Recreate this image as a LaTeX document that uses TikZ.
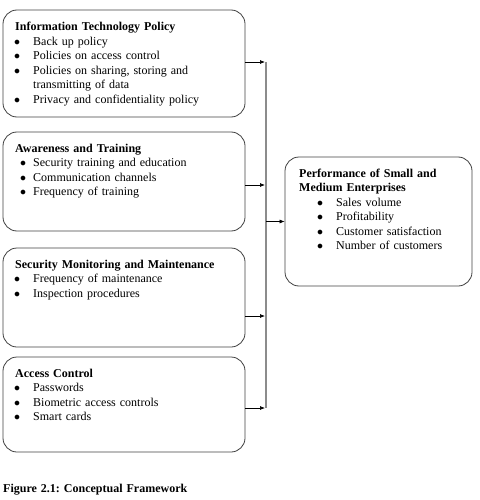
\documentclass[tikz,border=0pt]{standalone}
\usepackage{fontspec}
\setmainfont{Liberation Serif}
\usepackage{tikz}
\usetikzlibrary{arrows.meta}

\frenchspacing
\newcommand{\bitem}[2][18pt]{\makebox[#1][r]{$\bullet$\hspace*{13pt}}#2}
\newcommand{\bitemn}[1]{\makebox[18pt][r]{$\bullet$\hspace*{7pt}}#1}

\tikzset{
  factor/.style={draw=black!75, line width=0.8pt, rounded corners=14pt, minimum width=242pt, inner sep=0pt},
  boxtext/.style={anchor=base west, align=left, inner sep=0pt, text width=225pt,
    font=\fontsize{12}{14.5}\selectfont},
  link/.style={-{Latex[length=5pt,width=4pt]}, line width=0.7pt, black},
  bus/.style={draw=black!45, line width=1.6pt}
}

\begin{document}
\begin{tikzpicture}[x=1pt,y=-1pt]
\useasboundingbox (0,0) rectangle (479,500);

% independent variables
\node[factor, minimum height=107pt] (itp) at (124,63.5) {};
\node[factor, minimum height=99pt] (awt) at (124,181.5) {};
\node[factor, minimum height=99pt] (smm) at (124,297.5) {};
\node[factor, minimum height=95pt] (acc) at (124,404.5) {};

% dependent variable
\node[factor, minimum width=187pt, minimum height=129pt] (sme) at (378.5,221.5) {};

% texts
\node[boxtext] (itptxt) at (15,31) {\textbf{Information Technology Policy}\\
  \bitem{Back up policy}\\
  \bitem{Policies on access control}\\
  \bitem{Policies on sharing, storing and}\\
  \hspace*{18pt}transmitting of data\\
  \bitem{Privacy and confidentiality policy}};
\node[boxtext] (awttxt) at (15,152) {\textbf{Awareness and Training}\\
  \bitemn{Security training and education}\\
  \bitemn{Communication channels}\\
  \bitemn{Frequency of training}};
\node[boxtext] (smmtxt) at (15,268) {\textbf{Security Monitoring and Maintenance}\\
  \bitem{Frequency of maintenance}\\
  \bitem{Inspection procedures}};
\node[boxtext] (acctxt) at (15,377) {\textbf{Access Control}\\
  \bitem{Passwords}\\
  \bitem{Biometric access controls}\\
  \bitem{Smart cards}};
\node[boxtext, text width=170pt] (smetxt) at (299,177) {\textbf{Performance of Small and}\\
  \textbf{Medium Enterprises}\\
  \bitem[37pt]{Sales volume}\\
  \bitem[37pt]{Profitability}\\
  \bitem[37pt]{Customer satisfaction}\\
  \bitem[37pt]{Number of customers}};

% caption
\node[boxtext] (cap) at (3,492) {\textbf{Figure 2.1: Conceptual Framework}};

% ========== connectors ==========
\coordinate (j1) at (265,62);
\coordinate (j2) at (265,185);
\coordinate (j3) at (265,316);
\coordinate (j4) at (265,408);
\coordinate (j0) at (266,221.5);

\draw[bus] (266,62) -- (266,408);

\draw[link] (itp.east |- j1) -- (j1);
\draw[link] (awt.east |- j2) -- (j2);
\draw[link] (smm.east |- j3) -- (j3);
\draw[link] (acc.east |- j4) -- (j4);
\draw[link] (j0) -- (sme.west);
\end{tikzpicture}
\end{document}
